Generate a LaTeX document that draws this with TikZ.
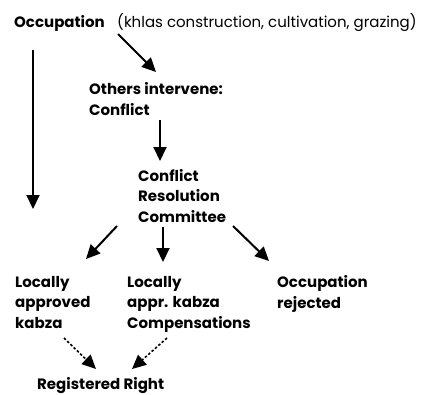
\documentclass[tikz,border=0pt]{standalone}
\usepackage{fontspec}
\setmainfont{Poppins}
\usetikzlibrary{arrows.meta}
\begin{document}
\begin{tikzpicture}[x=1pt,y=-1pt,
  lbl/.style={anchor=base west,inner sep=0pt,font=\fontsize{15}{20.5}\selectfont\bfseries},
  ml/.style={lbl,align=left},
  arr/.style={line width=2pt,-{Triangle[length=14pt,width=13pt]}},
  darr/.style={line width=1.6pt,dash pattern=on 2.5pt off 2pt,-{Triangle[length=14pt,width=13pt]}}]
\useasboundingbox (0,0) rectangle (431,394);
\node[lbl] (occ) at (14,27) {Occupation};
\node[lbl,font=\fontsize{15}{20}\selectfont] (kh) at (117,27) {(khlas construction, cultivation, grazing)};
\node[ml] (oth) at (89,115) {Others intervene:\\Conflict};
\node[ml] (crc) at (138,222) {Conflict\\Resolution\\Committee};
\node[ml] (lak) at (15,328) {Locally\\approved\\kabza};
\node[ml] (lac) at (127,328) {Locally\\appr. kabza\\Compensations};
\node[ml] (ocr) at (277,308) {Occupation\\rejected};
\node[lbl] (reg) at (37,389) {Registered Right};
\coordinate (a1s) at (118,34);
\coordinate (a1e) at (156,72);
\coordinate (a2s) at (33,50);
\coordinate (a2e) at (33,209);
\coordinate (a3s) at (160,120);
\coordinate (a3e) at (160,161);
\coordinate (a4s) at (117,226);
\coordinate (a4e) at (86,259);
\coordinate (a5s) at (163,227);
\coordinate (a5e) at (163,262);
\coordinate (a6s) at (233,226);
\coordinate (a6e) at (269,261);
\coordinate (d1s) at (64,338);
\coordinate (d1e) at (96,369);
\coordinate (d2s) at (167,338);
\coordinate (d2e) at (132,369);
\draw[arr] (a1s) -- (a1e);
\draw[arr] (a2s) -- (a2e);
\draw[arr] (a3s) -- (a3e);
\draw[arr] (a4s) -- (a4e);
\draw[arr] (a5s) -- (a5e);
\draw[arr] (a6s) -- (a6e);
\draw[darr] (d1s) -- (d1e);
\draw[darr] (d2s) -- (d2e);
\end{tikzpicture}
\end{document}
